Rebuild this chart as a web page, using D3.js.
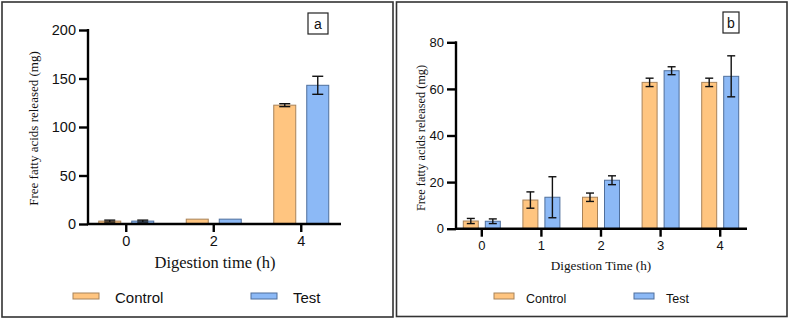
<!DOCTYPE html>
<html>
<head>
<meta charset="utf-8">
<script src="https://cdn.jsdelivr.net/npm/d3@7"></script>
<style>
  body { margin: 0; background: #fff; }
  svg { display: block; }
</style>
</head>
<body>
<svg width="789" height="320"></svg>
<script>
// panel a
const timesA = ['0', '2', '4'];
const controlA = [3, 5, 122.5];
const controlErrA = [1, 0, 1.5];
const testA = [3, 5, 143];
const testErrA = [1, 0, 9.3];
const yTicksA = [0, 50, 100, 150, 200];

// panel b
const timesB = ['0', '1', '2', '3', '4'];
const controlB = [3.3, 12.3, 13.5, 62.8, 62.8];
const controlErrB = [1.1, 3.5, 1.8, 1.8, 1.8];
const testB = [3.2, 13.5, 20.8, 67.8, 65.4];
const testErrB = [1.0, 8.8, 1.9, 1.7, 8.8];
const yTicksB = [0, 20, 40, 60, 80];

const orange = '#ffc580', orangeStroke = '#a8835a';
const blue = '#8cb9f6', blueStroke = '#4f6f9c';
const sans = 'Liberation Sans, Arial, sans-serif';
const serif = 'Liberation Serif, Times New Roman, serif';

const svg = d3.select('svg');

const drawPanel = p => {
	const g = svg.append('g');

	g.append('rect')
		.attr('x', p.box[0]).attr('y', p.box[1])
		.attr('width', p.box[2]).attr('height', p.box[3])
		.attr('fill', 'none').attr('stroke', '#333').attr('stroke-width', 1.6);

	const yScale = d3.scaleLinear().domain(p.yDomain).range([p.y0, p.y1]);
	const xScale = d3.scaleBand().domain(p.times).range(p.xRange).padding(0);
	const cx = d => xScale(d) + xScale.bandwidth() / 2;

	// bars
	const series = [
		{ vals: p.control, errs: p.controlErr, fill: orange, stroke: orangeStroke, off: -p.off },
		{ vals: p.test, errs: p.testErr, fill: blue, stroke: blueStroke, off: p.off }
	];
	series.forEach(s => {
		const rows = p.times.map((t, i) => ({ t, v: s.vals[i], e: s.errs[i] }));
		g.selectAll(null).data(rows).enter().append('rect')
			.attr('x', d => cx(d.t) + s.off - p.barW / 2)
			.attr('y', d => yScale(d.v))
			.attr('width', p.barW)
			.attr('height', d => yScale(0) - yScale(d.v))
			.attr('fill', s.fill)
			.attr('stroke', s.stroke)
			.attr('stroke-width', 1);

		const eb = g.selectAll(null).data(rows.filter(d => d.e > 0)).enter().append('g')
			.attr('stroke', '#111').attr('stroke-width', 1.4);
		eb.append('line')
			.attr('x1', d => cx(d.t) + s.off).attr('x2', d => cx(d.t) + s.off)
			.attr('y1', d => yScale(d.v + d.e)).attr('y2', d => yScale(d.v - d.e));
		[1, -1].forEach(sign => {
			eb.append('line')
				.attr('x1', d => cx(d.t) + s.off - p.cap / 2)
				.attr('x2', d => cx(d.t) + s.off + p.cap / 2)
				.attr('y1', d => yScale(d.v + sign * d.e))
				.attr('y2', d => yScale(d.v + sign * d.e));
		});
	});

	// y axis
	const yAxis = d3.axisLeft(yScale).tickValues(p.yTicks).tickSize(9).tickPadding(3);
	const ya = g.append('g').attr('transform', `translate(${p.x0},0)`).call(yAxis);
	ya.select('.domain').remove();
	ya.append('line').attr('x1', 0).attr('x2', 0).attr('y1', p.y1 - 1).attr('y2', p.y0 + 1)
		.attr('stroke', '#000').attr('stroke-width', 2.4);
	ya.selectAll('.tick line').attr('stroke', '#000').attr('stroke-width', 2.4);
	ya.selectAll('.tick text').attr('font-family', sans).attr('font-size', p.tickFont).attr('fill', '#111');

	// x axis
	const xAxis = d3.axisBottom(xScale).tickSize(8).tickPadding(4);
	const xa = g.append('g').attr('transform', `translate(0,${p.y0})`).call(xAxis);
	xa.select('.domain').remove();
	xa.append('line').attr('x1', p.x0 - 1).attr('x2', p.xEnd).attr('y1', 0).attr('y2', 0)
		.attr('stroke', '#000').attr('stroke-width', 2.4);
	xa.selectAll('.tick line').attr('stroke', '#000').attr('stroke-width', 2.4);
	xa.selectAll('.tick text').attr('font-family', sans).attr('font-size', p.tickFont).attr('fill', '#111');

	// titles
	g.append('text')
		.attr('transform', `translate(${p.yTitle[0]},${p.yTitle[1]}) rotate(-90)`)
		.attr('text-anchor', 'middle')
		.attr('font-family', serif).attr('font-size', p.yTitleFont).attr('fill', '#111')
		.text('Free fatty acids released (mg)');
	g.append('text')
		.attr('x', p.xTitle[0]).attr('y', p.xTitle[1])
		.attr('text-anchor', 'middle')
		.attr('font-family', serif).attr('font-size', p.xTitleFont).attr('fill', '#111')
		.text(p.xLabel);

	// legend
	const legend = [
		{ name: 'Control', fill: orange, stroke: orangeStroke, x: p.legX[0] },
		{ name: 'Test', fill: blue, stroke: blueStroke, x: p.legX[1] }
	];
	legend.forEach(l => {
		g.append('rect')
			.attr('x', l.x).attr('y', 293).attr('width', p.swW).attr('height', 6)
			.attr('fill', l.fill).attr('stroke', l.stroke).attr('stroke-width', 1);
		g.append('text')
			.attr('x', l.x + p.swW + p.legGap).attr('y', 302.5)
			.attr('font-family', sans).attr('font-size', p.legFont).attr('fill', '#111')
			.text(l.name);
	});

	// panel letter
	g.append('rect')
		.attr('x', p.tag[0]).attr('y', p.tag[1]).attr('width', p.tag[2]).attr('height', p.tag[3])
		.attr('fill', '#fff').attr('stroke', '#222').attr('stroke-width', 1.2);
	g.append('text')
		.attr('x', p.tag[0] + p.tag[2] / 2).attr('y', p.tag[1] + p.tag[3] / 2 + 5)
		.attr('text-anchor', 'middle')
		.attr('font-family', sans).attr('font-size', 14).attr('fill', '#111')
		.text(p.letter);
};

drawPanel({
	box: [2, 2, 391, 315],
	times: timesA, control: controlA, controlErr: controlErrA, test: testA, testErr: testErrA,
	yDomain: [0, 200], yTicks: yTicksA,
	y0: 224, y1: 30, x0: 88, xEnd: 341, xRange: [82.5, 345],
	barW: 22, off: 16.5, cap: 11,
	tickFont: 14.5, yTitleFont: 13, xTitleFont: 16.5,
	yTitle: [38, 128.5], xTitle: [215, 268], xLabel: 'Digestion time (h)',
	legX: [73, 251], swW: 26, legGap: 16, legFont: 15,
	tag: [308, 13, 20, 21], letter: 'a'
});

drawPanel({
	box: [396.5, 2, 390.5, 314.5],
	times: timesB, control: controlB, controlErr: controlErrB, test: testB, testErr: testErrB,
	yDomain: [0, 80], yTicks: yTicksB,
	y0: 228.7, y1: 42.3, x0: 456, xEnd: 747, xRange: [452, 750],
	barW: 15, off: 11, cap: 8,
	tickFont: 13, yTitleFont: 12.3, xTitleFont: 13.2,
	yTitle: [425, 138], xTitle: [601, 270], xLabel: 'Digestion Time (h)',
	legX: [494, 634], swW: 20, legGap: 12, legFont: 12.5,
	tag: [723, 12, 16, 21], letter: 'b'
});
</script>
</body>
</html>
